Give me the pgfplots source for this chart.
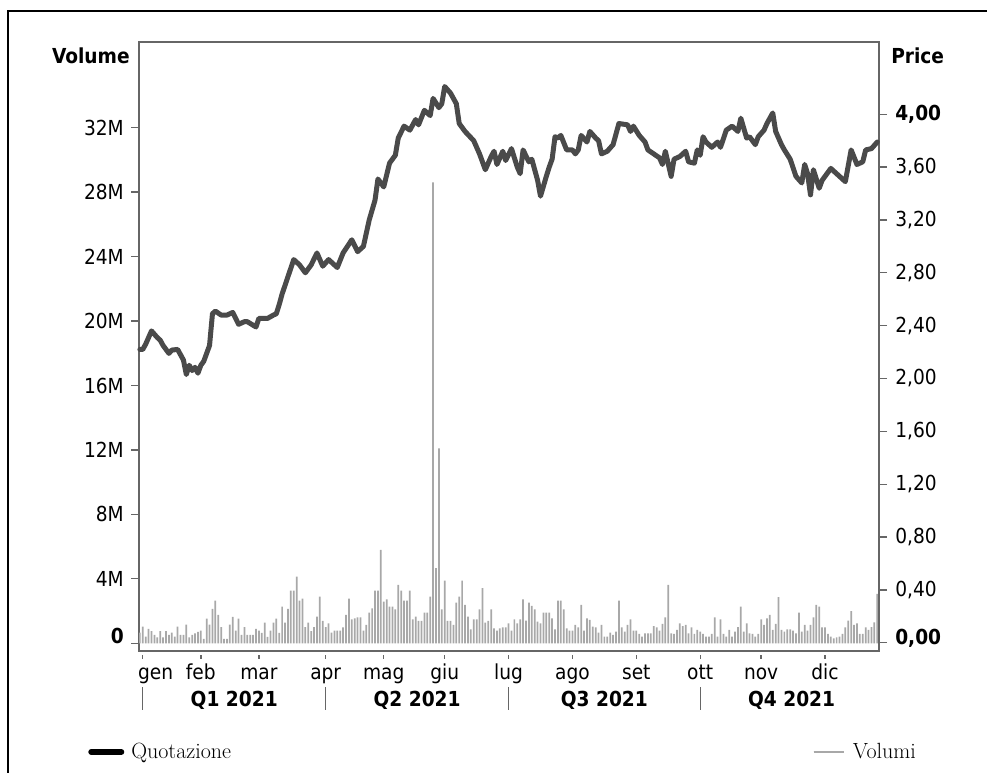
\documentclass[border=0pt]{standalone}
\usepackage{fontspec}
\usepackage{pgfplots}
\pgfplotsset{compat=1.18}
\usepackage{pgfplotstable}
\newfontfamily\tf{DejaVu Sans Condensed}
\definecolor{linec}{HTML}{4A4A4A}
\definecolor{barc}{HTML}{A8A8A8}
\definecolor{axc}{HTML}{666666}
\newcommand{\tickfont}{\tf\fontsize{15.5}{18}\selectfont}

\pgfplotstableread{
i p
-1 2.22
0 2.22
1 2.26
2 2.31
3 2.36
5 2.31
6 2.29
7 2.25
9 2.19
10 2.215
12 2.22
13 2.18
14 2.14
15 2.03
16 2.10
17 2.06
18 2.085
19 2.04
20 2.10
21 2.13
23 2.25
24 2.49
25 2.51
27 2.48
29 2.48
31 2.50
33 2.41
35 2.43
36 2.43
39 2.39
40 2.455
43 2.455
45 2.48
46 2.49
47 2.56
48 2.64
50 2.77
52 2.90
54 2.86
56 2.80
58 2.86
60 2.95
62 2.85
64 2.90
67 2.84
69 2.95
72 3.05
74 2.96
76 3.00
78 3.20
80 3.35
81 3.51
83 3.45
85 3.63
87 3.69
88 3.82
90 3.91
92 3.88
94 3.96
95 3.92
97 4.03
99 3.99
100 4.12
102 4.05
103 4.08
104 4.21
106 4.16
108 4.08
109 3.93
111 3.87
114 3.80
116 3.70
118 3.58
120 3.68
121 3.72
122 3.62
124 3.72
125 3.65
127 3.74
129 3.60
130 3.55
131 3.73
133 3.64
134 3.66
136 3.50
137 3.38
139 3.53
140 3.60
141 3.66
142 3.83
143 3.82
144 3.84
146 3.73
148 3.73
149 3.70
150 3.73
151 3.84
153 3.79
154 3.87
156 3.82
157 3.80
158 3.70
160 3.72
162 3.77
164 3.93
167 3.92
168 3.87
169 3.91
171 3.84
173 3.79
174 3.73
176 3.70
178 3.67
179 3.62
180 3.72
182 3.53
183 3.66
185 3.68
187 3.72
188 3.64
190 3.63
191 3.73
192 3.69
193 3.83
194 3.79
196 3.75
198 3.79
199 3.75
201 3.88
203 3.91
205 3.87
206 3.97
208 3.82
209 3.83
211 3.77
212 3.83
214 3.88
215 3.93
217 4.01
218 3.87
220 3.77
221 3.73
223 3.66
225 3.53
227 3.48
228 3.62
229 3.55
230 3.39
231 3.58
233 3.44
234 3.50
237 3.59
239 3.55
242 3.49
244 3.73
246 3.62
248 3.64
249 3.73
251 3.74
253 3.79
}\pricetab

\pgfplotstableread{
i v
-1 0.66
0 1.03
1 0.41
2 0.89
3 0.76
4 0.52
5 0.37
6 0.76
7 0.37
8 0.76
9 0.52
10 0.66
11 0.41
12 1.03
13 0.52
14 0.52
15 1.16
16 0.37
17 0.52
18 0.62
19 0.70
20 0.78
21 0.28
22 1.53
23 1.16
24 2.13
25 2.65
26 1.76
27 1.01
28 0.28
29 0.28
30 1.16
31 1.64
32 0.79
33 1.53
34 0.52
35 1.01
36 0.52
37 0.52
38 0.52
39 0.89
40 0.79
41 0.64
42 1.28
43 0.39
44 0.79
45 1.28
46 1.53
47 0.64
48 2.28
49 1.28
50 2.13
51 3.27
52 3.27
53 4.14
54 2.65
55 2.77
56 1.01
57 1.28
58 0.76
59 1.01
60 1.66
61 2.90
62 1.39
63 1.01
64 1.24
65 0.66
66 0.79
67 0.79
68 0.79
69 0.99
70 1.76
71 2.77
72 1.49
73 1.55
74 1.61
75 1.61
76 0.79
77 1.14
78 1.90
79 2.17
80 3.27
81 3.27
82 5.80
83 2.59
84 2.73
85 2.28
86 2.28
87 2.11
88 3.62
89 3.27
90 2.65
91 2.65
92 3.27
93 1.49
94 1.66
95 1.39
96 1.39
97 1.90
98 1.90
99 2.90
100 28.60
101 4.66
102 12.10
103 2.11
104 3.89
105 1.39
106 1.39
107 1.14
108 2.53
109 2.90
110 3.89
111 2.38
112 1.66
113 0.87
114 1.49
115 1.49
116 2.11
117 3.42
118 1.28
119 1.39
120 2.11
121 0.93
122 0.79
123 0.93
124 0.99
125 0.99
126 1.24
127 0.78
128 1.49
129 1.24
130 1.49
131 2.73
132 1.41
133 2.52
134 2.32
135 2.11
136 1.34
137 1.24
138 1.90
139 1.90
140 1.90
141 1.55
142 0.87
143 2.65
144 2.65
145 2.11
146 0.93
147 0.78
148 0.78
149 1.14
150 0.99
151 2.38
152 0.78
153 1.55
154 1.45
155 1.03
156 0.99
157 0.66
158 1.14
159 0.41
160 0.41
161 0.66
162 0.52
163 0.72
164 2.65
165 0.99
166 0.72
167 1.14
168 1.49
169 0.78
170 0.78
171 0.58
172 0.41
173 0.62
174 0.62
175 0.62
176 1.07
177 0.99
178 0.78
179 1.20
180 1.61
181 3.62
182 0.62
183 0.58
184 0.83
185 1.24
186 1.07
187 1.14
188 0.62
189 0.99
190 0.58
191 0.83
192 0.72
193 0.58
194 0.41
195 0.41
196 0.58
197 1.61
198 0.41
199 1.49
200 0.58
201 0.41
202 0.83
203 0.41
204 0.72
205 1.00
206 2.28
207 0.72
208 1.24
209 0.62
210 0.58
211 0.41
212 0.58
213 1.49
214 1.14
215 1.55
216 1.76
217 0.83
218 1.20
219 2.86
220 0.83
221 0.72
222 0.87
223 0.87
224 0.78
225 0.62
226 1.90
227 0.72
228 1.14
229 0.78
230 1.14
231 1.60
232 2.38
233 2.28
234 0.99
235 0.99
236 0.58
237 0.41
238 0.31
239 0.37
240 0.41
241 0.58
242 0.99
243 1.40
244 2.00
245 1.14
246 1.24
247 0.58
248 0.58
249 0.99
250 0.83
251 1.00
252 1.30
253 3.06
}\voltab

\begin{document}
\begin{tikzpicture}
\useasboundingbox (0pt,0pt) rectangle (740.25pt,579pt);
\draw[black, line width=1pt] (6pt,-5pt) -- (6pt,570.75pt) -- (745pt,570.75pt);

% ---------- volume axis (left) ----------
\begin{axis}[
  at={(104.25pt,90.75pt)}, anchor=south west, scale only axis,
  width=555pt, height=456.75pt,
  xmin=-1.3, xmax=253.6, ymin=-0.48, ymax=37.32,
  clip=false,
  axis line style={draw=axc, line width=1.2pt},
  tick align=outside,
  major tick length=6pt,
  tick style={draw=axc, line width=1pt},
  ytick pos=left,
  xtick pos=bottom,
  xtick={0,20,40,63,83,104,126,148,170,192,213,235},
  xticklabels={{\makebox[0pt][l]{\hspace*{-3.5pt}gen}},feb,mar,apr,mag,giu,lug,ago,set,ott,nov,dic},
  xtick style={draw=none},
  ytick={0,4,8,12,16,20,24,28,32},
  yticklabels={{\raisebox{0pt}[0pt][0pt]{\textbf{0}}},4M,8M,12M,16M,20M,24M,28M,32M},
  tick label style={font=\tickfont, text=black},
  yticklabel style={anchor=east, inner sep=0pt, xshift=-5.25pt},
  xticklabel style={anchor=base, inner sep=0pt, yshift=-15.3pt},
  legend style={at={(0.9095,-0.1658)}, anchor=west, draw=none, fill=none,
    inner sep=0pt, nodes={inner sep=0pt}, font=\fontsize{16.5}{18}\selectfont,
    /tikz/every odd column/.append style={column sep=6pt}},
]
\addplot[ybar, bar width=0.6, bar shift=0pt, fill=barc, draw=none,
  legend image code/.code={\draw[barc, line width=2pt] (0pt,0pt) -- (22.5pt,0pt);}]
  table[x=i, y=v]{\voltab};
\addlegendentry{Volumi}

\pgfplotsinvokeforeach{0,20,40,63,83,104,126,148,170,192,213,235}{
  \draw[axc, line width=1pt] ([yshift=-3pt]axis cs:#1,-0.48) -- ([yshift=-6pt]axis cs:#1,-0.48);
}
\pgfplotsinvokeforeach{0,63,126,192}{
  \draw[axc, line width=1pt] ([yshift=-27pt]axis cs:#1,-0.48) -- ([yshift=-44.25pt]axis cs:#1,-0.48);
}
\node[anchor=base, font=\tf\bfseries\fontsize{15.5}{18}\selectfont] at ([yshift=-41.25pt]axis cs:31.5,-0.48) {Q1 2021};
\node[anchor=base, font=\tf\bfseries\fontsize{15.5}{18}\selectfont] at ([yshift=-41.25pt]axis cs:94.5,-0.48) {Q2 2021};
\node[anchor=base, font=\tf\bfseries\fontsize{15.5}{18}\selectfont] at ([yshift=-41.25pt]axis cs:159,-0.48) {Q3 2021};
\node[anchor=base, font=\tf\bfseries\fontsize{15.5}{18}\selectfont] at ([yshift=-41.25pt]axis cs:223.5,-0.48) {Q4 2021};
\node[anchor=base east, inner sep=0pt, font=\tf\bfseries\fontsize{15.5}{18}\selectfont] at (rel axis cs:-0.0122,0.9655) {Volume};
\end{axis}

% ---------- price axis (right) ----------
\begin{axis}[
  at={(104.25pt,90.75pt)}, anchor=south west, scale only axis,
  width=555pt, height=456.75pt,
  xmin=-1.3, xmax=253.6, ymin=-0.0628, ymax=4.547,
  clip=false,
  axis x line=none, axis y line*=right,
  axis line style={draw=axc, line width=1.2pt},
  tick align=outside,
  major tick length=6pt,
  tick style={draw=axc, line width=1pt},
  ytick={0,0.4,0.8,1.2,1.6,2,2.4,2.8,3.2,3.6,4},
  yticklabels={{\raisebox{-1.5pt}[0pt][0pt]{\textbf{0,00}}},{0,40},{0,80},{1,20},{1,60},{2,00},{2,40},{2,80},{3,20},{3,60},{\textbf{4,00}}},
  tick label style={font=\tickfont, text=black},
  yticklabel style={anchor=west, inner sep=0pt, xshift=6pt},
  legend style={at={(-0.0689,-0.1658)}, anchor=west, draw=none, fill=none,
    inner sep=0pt, nodes={inner sep=0pt}, font=\fontsize{16.5}{18}\selectfont,
    /tikz/every odd column/.append style={column sep=5.25pt}},
]
\addplot[linec, line width=3.75pt, line join=round, line cap=round,
  legend image code/.code={\draw[black, line width=4.5pt] (0pt,0pt) -- (22.5pt,0pt);}]
  table[x=i, y=p]{\pricetab};
\addlegendentry{Quotazione}
\node[anchor=base west, inner sep=0pt, font=\tf\bfseries\fontsize{15.5}{18}\selectfont] at (rel axis cs:1.0162,0.9655) {Price};
\end{axis}
\end{tikzpicture}
\end{document}
